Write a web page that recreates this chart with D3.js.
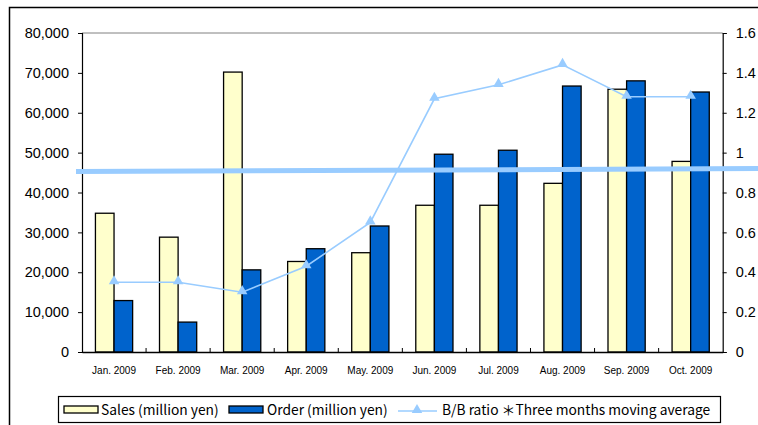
<!DOCTYPE html>
<html><head><meta charset="utf-8">
<script src="https://cdn.jsdelivr.net/npm/d3@7"></script>
<style>body{margin:0;background:#fff}svg{display:block}</style>
</head><body>
<svg id="c" width="758" height="425"></svg>
<script>
const categories = ["Jan. 2009","Feb. 2009","Mar. 2009","Apr. 2009","May. 2009","Jun. 2009","Jul. 2009","Aug. 2009","Sep. 2009","Oct. 2009"];
const sales  = [34800, 28800, 70200, 22700, 24900, 36800, 36800, 42300, 65900, 47800];
const orders = [12900, 7500, 20600, 25900, 31600, 49600, 50600, 66700, 68000, 65200];
const bbRatio = [0.35, 0.35, 0.30, 0.43, 0.65, 1.27, 1.34, 1.44, 1.28, 1.28];
const leftTicks = [0,10000,20000,30000,40000,50000,60000,70000,80000];
const rightTicks = [0,0.2,0.4,0.6,0.8,1,1.2,1.4,1.6];
const refLine = [0.905, 0.92]; // highlighted level, left end / right end (ratio scale)
const seriesNames = ["Sales (million yen)", "Order (million yen)", "B/B ratio ＊Three months moving average"];

const svg = d3.select("#c");
const L = 82, R = 722.7, T = 33, B = 352;
const x = d3.scaleBand().domain(categories).range([L, R]);
const y = d3.scaleLinear().domain([0, 80000]).range([B, T]);
const y2 = d3.scaleLinear().domain([0, 1.6]).range([B, T]);
const fmt = d3.format(",");

// outer border
svg.append("rect").attr("x", 9.5).attr("y", 7.5).attr("width", 800).attr("height", 500)
  .attr("fill", "none").attr("stroke", "#000").attr("stroke-width", 1.5);

// plot area top border
svg.append("line").attr("x1", L).attr("x2", R).attr("y1", T).attr("y2", T)
  .attr("stroke", "#808080").attr("stroke-width", 1);

// bars
const bw = 18.6;
const g = svg.append("g");
g.selectAll("rect.s").data(sales).join("rect").attr("class","s")
  .attr("x", (d,i) => x(categories[i]) + x.bandwidth()/2 - bw)
  .attr("y", d => y(d)).attr("width", bw).attr("height", d => B - y(d))
  .attr("fill", "#ffffcc").attr("stroke", "#000").attr("stroke-width", 1.3);
g.selectAll("rect.o").data(orders).join("rect").attr("class","o")
  .attr("x", (d,i) => x(categories[i]) + x.bandwidth()/2)
  .attr("y", d => y(d)).attr("width", bw).attr("height", d => B - y(d))
  .attr("fill", "#0063cc").attr("stroke", "#000").attr("stroke-width", 1.3);

// left axis
const la = svg.append("g").attr("transform", `translate(${L},0)`)
  .call(d3.axisLeft(y).tickValues(leftTicks).tickFormat(fmt).tickSize(4).tickPadding(9));
la.select(".domain").attr("stroke", "#000").attr("stroke-width", 1.2);
la.selectAll(".tick line").attr("stroke", "#000");
la.selectAll("text").attr("font-family", "Liberation Sans, Arial, sans-serif").attr("font-size", 14.5).attr("fill", "#000");

// right axis
const ra = svg.append("g").attr("transform", `translate(${R},0)`)
  .call(d3.axisRight(y2).tickValues(rightTicks).tickFormat(d => d3.format("")(+d.toFixed(1))).tickSize(4).tickPadding(9));
ra.select(".domain").attr("stroke", "#000").attr("stroke-width", 1.2);
ra.selectAll(".tick line").attr("stroke", "#000");
ra.selectAll("text").attr("font-family", "Liberation Sans, Arial, sans-serif").attr("font-size", 14.5).attr("fill", "#000");

// bottom axis
const ba = svg.append("g").attr("transform", `translate(0,${B})`)
  .call(d3.axisBottom(x).tickSize(0).tickPadding(15));
ba.select(".domain").attr("stroke", "#000").attr("stroke-width", 1.5);
ba.selectAll("text").attr("font-family", "Liberation Sans, Arial, sans-serif").attr("font-size", 10).attr("fill", "#000");
// inward separator ticks between categories
svg.append("g").selectAll("line").data(categories.slice(1)).join("line")
  .attr("x1", d => x(d)).attr("x2", d => x(d)).attr("y1", B).attr("y2", B - 4)
  .attr("stroke", "#000").attr("stroke-width", 1);

// ratio line
const line = d3.line().x((d,i) => x(categories[i]) + x.bandwidth()/2).y(d => y2(d));
svg.append("path").datum(bbRatio).attr("d", line).attr("fill", "none")
  .attr("stroke", "#99ccff").attr("stroke-width", 1.6);
const tri = d3.symbol().type(d3.symbolTriangle).size(48);
svg.append("g").selectAll("path").data(bbRatio).join("path")
  .attr("d", tri)
  .attr("transform", (d,i) => `translate(${x(categories[i]) + x.bandwidth()/2},${y2(d) - 1})`)
  .attr("fill", "#99ccff");

// highlighted reference line
svg.append("line").attr("x1", L - 6).attr("x2", 760)
  .attr("y1", y2(refLine[0])).attr("y2", y2(refLine[1]))
  .attr("stroke", "#99ccff").attr("stroke-width", 5);

// legend
const lg = svg.append("g");
lg.append("rect").attr("x", 58.5).attr("y", 396.5).attr("width", 662).attr("height", 26)
  .attr("fill", "#fff").attr("stroke", "#000").attr("stroke-width", 1.2);
const ly = 410;
lg.append("rect").attr("x", 64).attr("y", ly - 4).attr("width", 34).attr("height", 7)
  .attr("fill", "#ffffcc").attr("stroke", "#000").attr("stroke-width", 1.3);
lg.append("rect").attr("x", 229).attr("y", ly - 4).attr("width", 34).attr("height", 7)
  .attr("fill", "#0063cc").attr("stroke", "#000").attr("stroke-width", 1.3);
lg.append("line").attr("x1", 398).attr("x2", 437).attr("y1", ly + 1).attr("y2", ly + 1)
  .attr("stroke", "#99ccff").attr("stroke-width", 1.6);
lg.append("path").attr("d", tri).attr("transform", `translate(417,${ly})`).attr("fill", "#99ccff");
const lx = [101, 267, 442];
lg.selectAll("text").data(seriesNames).join("text")
  .attr("x", (d,i) => lx[i]).attr("y", ly + 5)
  .attr("font-family", "Noto Sans CJK JP, sans-serif")
  .attr("font-size", 13.8).attr("fill", "#000")
  .text(d => d);
</script>
</body></html>
